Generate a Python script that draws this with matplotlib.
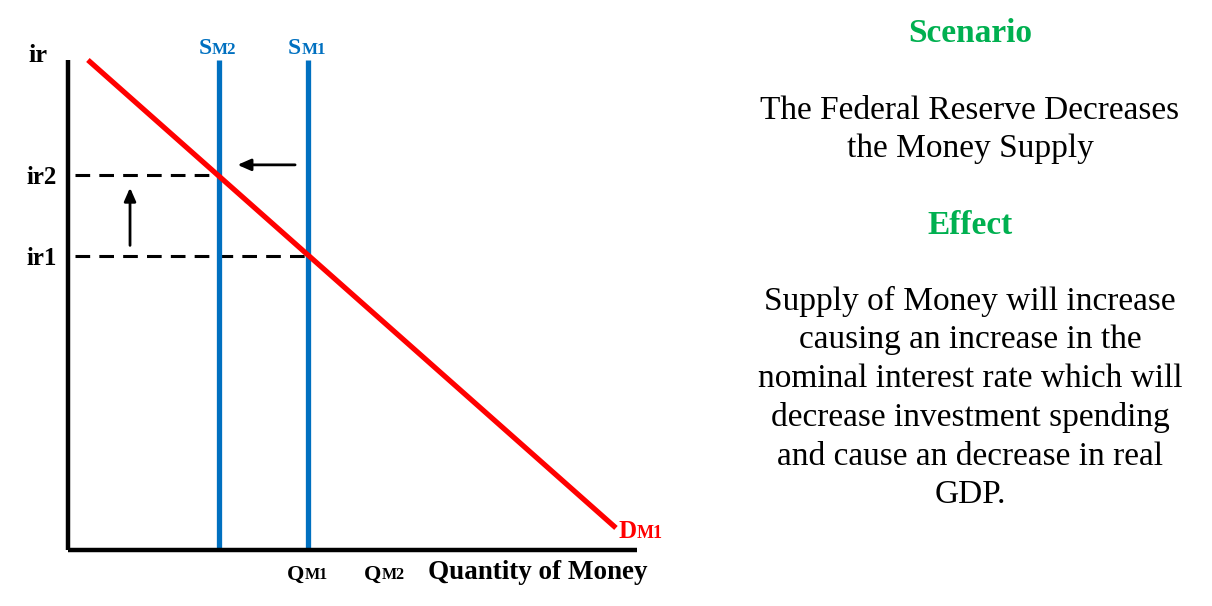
import numpy as np
import matplotlib
matplotlib.use("Agg")
import matplotlib.pyplot as plt

# money market values (arbitrary units, axis runs 0..10 both ways)
sm2_q = 2.65
sm1_q = 4.22
qm2_label_q = 5.57
supply_y = [0.04, 10.0]
demand_q = [0.35, 9.63]
demand_ir = [10.0, 0.45]
ir_levels = [6.0, 7.65]
ir_labels = ["ir1", "ir2"]
dash_end = [sm1_q, sm2_q]
shift_arrow_q = [4.04, 2.93]
shift_arrow_ir = 7.86
rise_arrow_q = 1.09
rise_arrow_ir = [6.16, 7.45]

scenario = "The Federal Reserve Decreases\nthe Money Supply"
effect = ("Supply of Money will increase\ncausing an increase in the\n"
          "nominal interest rate which will\ndecrease investment spending\n"
          "and cause an decrease in real\nGDP.")

BLUE = "#0070C0"
RED = "#FF0000"
GREEN = "#00B050"
serif = "Liberation Serif"

fig = plt.figure(figsize=(12.12, 6.06), dpi=100)
ax = fig.add_axes([68/1212, 56/606, 569/1212, 490/606])
ax.set_xlim(0, 10)
ax.set_ylim(0, 10)
for s in ["top", "right"]:
    ax.spines[s].set_visible(False)
for s in ["left", "bottom"]:
    ax.spines[s].set_linewidth(3.2)
    ax.spines[s].set_capstyle("butt")

# dashed guides
for lvl, xe in zip(ir_levels, dash_end):
    ax.plot([0.12, xe], [lvl, lvl], color="black", lw=2.2,
            dashes=(4.8, 3), zorder=1)

# supply curves
for q in [sm2_q, sm1_q]:
    ax.plot([q, q], supply_y, color=BLUE, lw=3.8, solid_capstyle="butt",
            clip_on=False, zorder=2)

# demand
ax.plot(demand_q, demand_ir, color=RED, lw=3.8, solid_capstyle="butt",
        clip_on=False, zorder=3)

# arrows
ax.annotate("", xy=(shift_arrow_q[1], shift_arrow_ir),
            xytext=(shift_arrow_q[0], shift_arrow_ir),
            arrowprops=dict(arrowstyle="-|>,head_length=0.8,head_width=0.35",
                            color="black", lw=2))
ax.annotate("", xy=(rise_arrow_q, rise_arrow_ir[1]),
            xytext=(rise_arrow_q, rise_arrow_ir[0]),
            arrowprops=dict(arrowstyle="-|>,head_length=0.8,head_width=0.35",
                            color="black", lw=2))

ax.set_xticks([])
ax.set_yticks(ir_levels, ir_labels, fontsize=18, fontweight="bold",
              fontfamily=serif)
ax.tick_params(axis="y", length=0, pad=8)

ax.text(-0.53, 10.1, "ir", fontsize=19, fontweight="bold", fontfamily=serif,
        ha="center", va="center")


def two_part(x, y, big, small, color, size):
    ax.text(x, y, big, fontsize=size, fontweight="bold",
            fontfamily=serif, color=color, ha="right", va="baseline",
            clip_on=False)
    ax.text(x, y, small, fontsize=size*0.72, fontweight="bold",
            fontfamily=serif, color=color, ha="left", va="baseline",
            clip_on=False)


two_part(sm2_q - 0.12, 10.12, "S", "M2", BLUE, 17)
two_part(sm1_q - 0.12, 10.12, "S", "M1", BLUE, 17)
two_part(demand_q[1] + 0.36, 0.25, "D", "M1", RED, 18)
two_part(sm1_q - 0.06, -0.6, "Q", "M1", "black", 16)
two_part(qm2_label_q - 0.06, -0.6, "Q", "M2", "black", 16)
ax.text(6.33, -0.6, "Quantity of Money", fontsize=19.5, fontweight="bold",
        fontfamily=serif, ha="left", va="baseline")

# right side text
fig.text(970/1212, 1 - 34/606, "Scenario", fontsize=24, fontweight="bold",
         fontfamily=serif, color=GREEN, ha="center", va="center")
fig.text(970/1212, 1 - 130/606, scenario, fontsize=24, fontfamily=serif,
         ha="center", va="center", linespacing=1.33)
fig.text(970/1212, 1 - 225/606, "Effect", fontsize=24, fontweight="bold",
         fontfamily=serif, color=GREEN, ha="center", va="center")
fig.text(970/1212, 1 - 398/606, effect, fontsize=24, fontfamily=serif,
         ha="center", va="center", linespacing=1.34)

fig.savefig("out.png", dpi=100)
